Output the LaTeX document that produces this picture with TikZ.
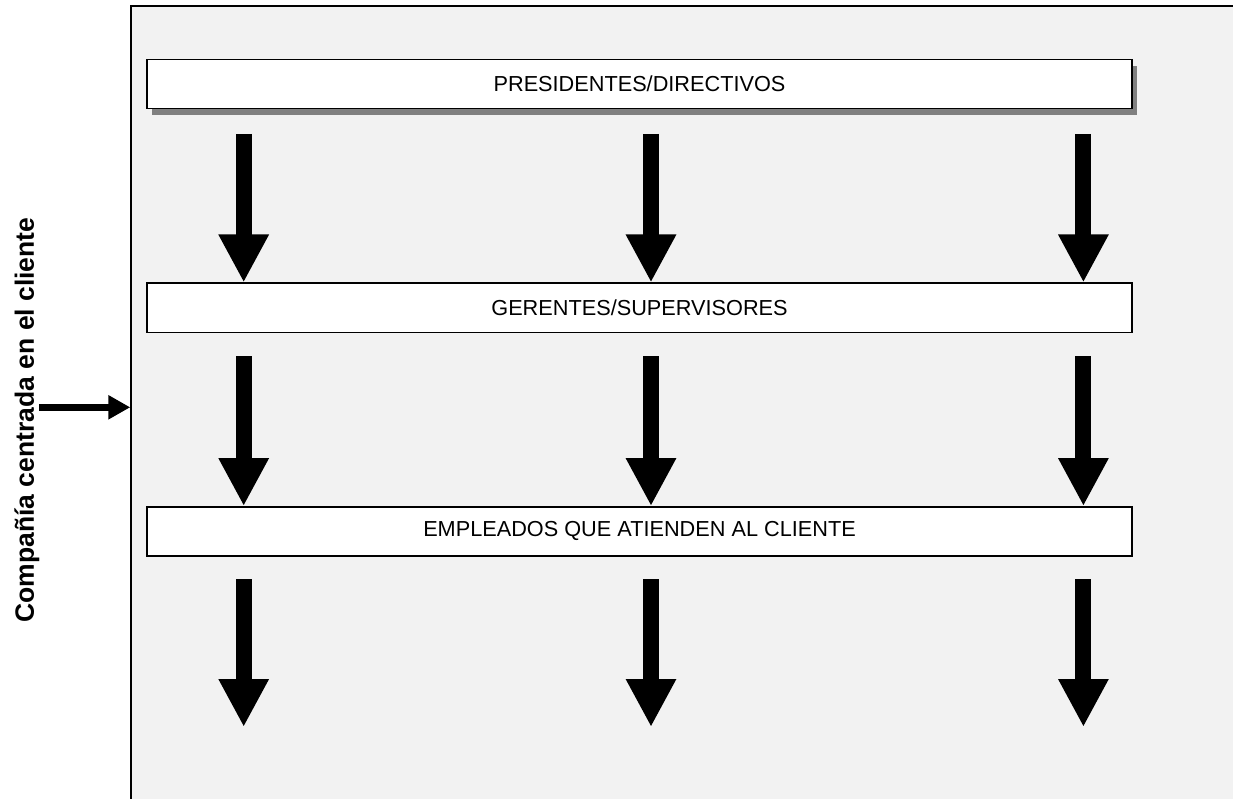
\documentclass[tikz,border=0pt]{standalone}
\usepackage{fontspec}
\setmainfont{Liberation Sans}
\usetikzlibrary{positioning,arrows.meta,shadows}
\definecolor{fondo}{RGB}{242,242,242}

\begin{document}
\begin{tikzpicture} [x=1pt, y=-1pt, node distance=173pt,
                    marco/.style={draw, line width=1.5pt, fill=fondo, inner sep=0pt,
                                  minimum width=1114pt, minimum height=804pt},
                    nivel/.style={draw, line width=1.6pt, fill=white, inner sep=0pt,
                                  minimum width=985pt, minimum height=49pt,
                                  font=\fontsize{21.7}{26}\selectfont},
                    sombra/.style={drop shadow={shadow xshift=5pt, shadow yshift=-6pt,
                                  fill=black!50, opacity=1}},
                    flecha/.style={line width=16pt, -{Triangle[width=47pt,length=48pt]}},
                    entrada/.style={line width=7pt, -{Triangle[width=23pt,length=22pt]}}]

\useasboundingbox (0,0) rectangle (1233,799);
\clip (0,0) rectangle (1233,799);

\node[marco] (marco) at (688,408) {};

\node[nivel, sombra] (presidentes) at (639.5,84.2) {PRESIDENTES/DIRECTIVOS};
\node[nivel] (gerentes) [below=of presidentes] {GERENTES/SUPERVISORES};
\node[nivel] (empleados) [below=of gerentes] {EMPLEADOS QUE ATIENDEN AL CLIENTE};

\node[rotate=90, font=\bfseries\fontsize{26.5}{30}\selectfont] (etiqueta) at (27,420)
    {Compañía centrada en el cliente};

\coordinate (a1) at (243.7,134);
\coordinate (a2) at (651,134);
\coordinate (a3) at (1083.4,134);
\coordinate (b1) at (243.7,356);
\coordinate (b2) at (651,356);
\coordinate (b3) at (1083.4,356);
\coordinate (c1) at (243.7,579);
\coordinate (c2) at (651,579);
\coordinate (c3) at (1083.4,579);
\coordinate (d1) at (243.7,727);
\coordinate (d2) at (651,727);
\coordinate (d3) at (1083.4,727);
\coordinate (e0) at (39,407.3);

 \path[flecha]
    (a1) edge (a1 |- gerentes.north)
    (a2) edge (a2 |- gerentes.north)
    (a3) edge (a3 |- gerentes.north)
    (b1) edge (b1 |- empleados.north)
    (b2) edge (b2 |- empleados.north)
    (b3) edge (b3 |- empleados.north)
    (c1) edge (d1)
    (c2) edge (d2)
    (c3) edge (d3);

\draw[entrada] (e0) -- (e0 -| marco.west);
\end{tikzpicture}
\end{document}
